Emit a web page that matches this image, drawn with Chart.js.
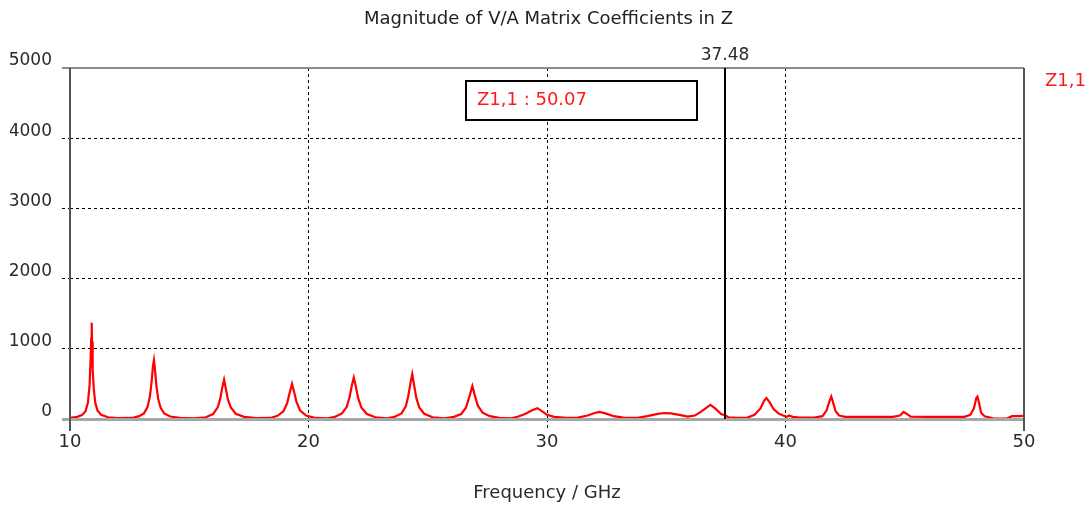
<!DOCTYPE html>
<html lang="en">
<head>
    <meta charset="UTF-8">
    <title>Magnitude of V/A Matrix Coefficients in Z</title>
    <script src="https://cdn.jsdelivr.net/npm/chart.js"></script>
    <style>
        html, body { margin: 0; padding: 0; background: #fff; }
        #wrap { width: 1087px; height: 506px; }
    </style>
</head>
<body>
    <div id="wrap"><canvas id="myChart"></canvas></div>
    <script>
        // Z1,1 magnitude sampled over frequency (GHz)
        const freq = [
            10.00, 10.30, 10.50, 10.65, 10.75, 10.82, 10.86, 10.89, 10.91, 10.925, 10.94, 10.96, 11.00, 11.06, 11.15, 11.30, 11.60, 12.00,
            12.60, 12.90, 13.10, 13.25, 13.35, 13.42, 13.48, 13.52, 13.56, 13.62, 13.70, 13.80, 13.95, 14.20, 14.60, 15.20,
            15.70, 16.00, 16.20, 16.30, 16.38, 16.46, 16.54, 16.62, 16.75, 16.95, 17.30, 17.80,
            18.40, 18.70, 18.95, 19.10, 19.20, 19.31, 19.40, 19.50, 19.65, 19.90, 20.30, 20.80,
            21.10, 21.40, 21.60, 21.72, 21.82, 21.90, 21.98, 22.08, 22.22, 22.45, 22.80, 23.30,
            23.60, 23.90, 24.08, 24.18, 24.28, 24.35, 24.42, 24.52, 24.65, 24.85, 25.20, 25.70,
            26.10, 26.40, 26.60, 26.73, 26.87, 26.98, 27.10, 27.30, 27.60, 28.00, 28.50,
            28.80, 29.10, 29.35, 29.60, 29.80, 30.00, 30.30, 30.80,
            31.30, 31.70, 32.00, 32.20, 32.45, 32.80, 33.20, 33.80,
            34.20, 34.60, 34.90, 35.20, 35.60, 35.90,
            36.20, 36.40, 36.65, 36.85, 37.05, 37.30, 37.48, 37.60, 38.00, 38.40,
            38.70, 38.95, 39.10, 39.20, 39.35, 39.50, 39.70, 39.90, 40.05, 40.15, 40.30, 40.60, 41.20,
            41.55, 41.72, 41.84, 41.92, 42.00, 42.10, 42.25, 42.50, 43.50, 44.50,
            44.80, 44.95, 45.10, 45.25, 46.00, 47.50,
            47.75, 47.90, 48.00, 48.05, 48.12, 48.20, 48.35, 48.70, 49.00, 49.30, 49.50, 49.70, 50.00
        ];
        const z11 = [
            15, 30, 55, 110, 230, 480, 820, 1150, 1370, 1100, 1000, 700, 420, 230, 120, 60, 25, 12,
            15, 40, 80, 170, 320, 520, 760, 840, 720, 480, 280, 160, 80, 35, 15, 8,
            25, 70, 170, 290, 440, 560, 420, 280, 160, 75, 30, 12,
            15, 45, 110, 220, 360, 500, 380, 240, 120, 50, 15, 8,
            30, 80, 170, 310, 480, 590, 470, 300, 160, 70, 25, 10,
            30, 80, 180, 320, 520, 640, 500, 300, 160, 75, 25, 10,
            30, 70, 160, 300, 470, 330, 190, 90, 40, 15, 10,
            35, 75, 120, 155, 110, 60, 30, 15,
            20, 50, 85, 100, 80, 40, 20, 15,
            40, 70, 85, 80, 55, 35,
            50, 90, 150, 200, 150, 70, 50.07, 25, 15, 20,
            60, 150, 260, 300, 230, 140, 80, 50, 30, 50, 30, 20, 20,
            40, 120, 250, 320, 230, 110, 50, 30, 30, 30,
            50, 100, 70, 35, 30, 30,
            60, 150, 300, 320, 220, 90, 40, 10, 5, 10, 40, 40, 45
        ];

        const xTicks = [10, 20, 30, 40, 50];
        const yTicks = [0, 1000, 2000, 3000, 4000, 5000];
        const seriesName = 'Z1,1';
        const cursorFreq = 37.48;

        const fontFamily = '"DejaVu Sans", Verdana, sans-serif';
        const textColor = '#2a2a2a';

        // value shown in the readout box, taken from the sample at the cursor
        const cursorIdx = freq.indexOf(cursorFreq);
        const cursorValue = z11[cursorIdx];

        const points = freq.map((f, i) => ({ x: f, y: z11[i] }));

        const edgeGrid = (vals) => (ctx) => {
            const v = ctx.tick ? ctx.tick.value : null;
            return (v === vals[0] || v === vals[vals.length - 1]) ? 'rgba(0,0,0,0)' : '#000000';
        };

        // plot frame, cursor marker, readout box and series label
        const overlay = {
            id: 'overlay',
            afterDraw(chart) {
                const ctx = chart.ctx;
                const ca = chart.chartArea;
                const xs = chart.scales.x;
                ctx.save();

                // top and bottom edges
                ctx.lineWidth = 2;
                ctx.strokeStyle = '#8c8c8c';
                ctx.beginPath();
                ctx.moveTo(ca.left - 8, ca.top);
                ctx.lineTo(ca.right, ca.top);
                ctx.stroke();
                ctx.lineWidth = 3;
                ctx.strokeStyle = '#a6a6a6';
                ctx.beginPath();
                ctx.moveTo(ca.left - 8, ca.bottom + 0.5);
                ctx.lineTo(ca.right, ca.bottom + 0.5);
                ctx.stroke();

                // left and right edges
                ctx.lineWidth = 2;
                ctx.strokeStyle = '#555555';
                ctx.beginPath();
                ctx.moveTo(ca.left, ca.top);
                ctx.lineTo(ca.left, ca.bottom + 12);
                ctx.moveTo(ca.right, ca.top);
                ctx.lineTo(ca.right, ca.bottom + 12);
                ctx.stroke();

                // cursor line
                const cx = Math.round(xs.getPixelForValue(cursorFreq));
                ctx.strokeStyle = '#000000';
                ctx.lineWidth = 2;
                ctx.beginPath();
                ctx.moveTo(cx, ca.top);
                ctx.lineTo(cx, ca.bottom);
                ctx.stroke();
                ctx.font = '17px ' + fontFamily;
                ctx.fillStyle = textColor;
                ctx.textAlign = 'center';
                ctx.textBaseline = 'middle';
                ctx.fillText(cursorFreq.toFixed(2), cx, ca.top - 12);

                // readout box
                const bx = ca.left + 396, by = ca.top + 13, bw = 231, bh = 39;
                ctx.fillStyle = '#ffffff';
                ctx.fillRect(bx, by, bw, bh);
                ctx.strokeStyle = '#000000';
                ctx.lineWidth = 2;
                ctx.strokeRect(bx, by, bw, bh);
                ctx.font = '18px ' + fontFamily;
                ctx.fillStyle = '#ff1a1a';
                ctx.textAlign = 'left';
                ctx.fillText(seriesName + ' : ' + cursorValue.toFixed(2), bx + 11, by + bh / 2);

                // series label on the right
                ctx.fillText(seriesName, ca.right + 21, ca.top + 13);
                ctx.restore();
            }
        };

        const ctx = document.getElementById('myChart').getContext('2d');
        const myChart = new Chart(ctx, {
            type: 'scatter',
            data: {
                datasets: [{
                    label: seriesName,
                    data: points,
                    showLine: true,
                    borderColor: '#ff0000',
                    borderWidth: 2.2,
                    pointRadius: 0,
                    tension: 0
                }]
            },
            options: {
                responsive: true,
                maintainAspectRatio: false,
                animation: false,
                layout: { padding: { left: 10, right: 0, top: 0, bottom: 0 } },
                plugins: {
                    legend: { display: false },
                    tooltip: { enabled: false },
                    title: {
                        display: true,
                        text: 'Magnitude of V/A Matrix Coefficients in Z',
                        color: '#222222',
                        font: { family: fontFamily, size: 18, weight: 'normal', lineHeight: 1.2 },
                        padding: { top: 9, bottom: 37.4 }
                    }
                },
                scales: {
                    x: {
                        type: 'linear',
                        min: xTicks[0],
                        max: xTicks[xTicks.length - 1],
                        afterBuildTicks: (scale) => { scale.ticks = xTicks.map(v => ({ value: v })); },
                        afterFit: (scale) => { scale.height = 87; },
                        ticks: {
                            color: textColor,
                            font: { family: fontFamily, size: 18 },
                            padding: 3,
                            maxRotation: 0,
                            callback: (v) => String(v)
                        },
                        grid: {
                            color: edgeGrid(xTicks),
                            tickColor: edgeGrid(xTicks),
                            lineWidth: 1,
                            tickLength: 10,
                            tickBorderDash: [3, 3]
                        },
                        border: { display: false, dash: [3, 3] },
                        title: {
                            display: true,
                            text: 'Frequency / GHz',
                            color: textColor,
                            font: { family: fontFamily, size: 18 },
                            padding: { top: 0, bottom: 2 }
                        }
                    },
                    y: {
                        type: 'linear',
                        min: yTicks[0],
                        max: yTicks[yTicks.length - 1],
                        afterBuildTicks: (scale) => { scale.ticks = yTicks.map(v => ({ value: v })); },
                        afterFit: (scale) => { scale.width = 60; },
                        ticks: {
                            color: textColor,
                            font: { family: fontFamily, size: 17 },
                            padding: 10,
                            labelOffset: -7,
                            callback: (v) => String(v)
                        },
                        grid: {
                            color: edgeGrid(yTicks),
                            tickColor: edgeGrid(yTicks),
                            lineWidth: 1,
                            tickLength: 8,
                            tickBorderDash: [3, 3]
                        },
                        border: { display: false, dash: [3, 3] }
                    },
                    // empty strip on the right that holds the series label
                    yRight: {
                        type: 'linear',
                        position: 'right',
                        min: yTicks[0],
                        max: yTicks[yTicks.length - 1],
                        afterFit: (scale) => { scale.width = 63; },
                        ticks: { display: false },
                        grid: { display: false },
                        border: { display: false }
                    }
                }
            },
            plugins: [overlay]
        });
    </script>
</body>
</html>
